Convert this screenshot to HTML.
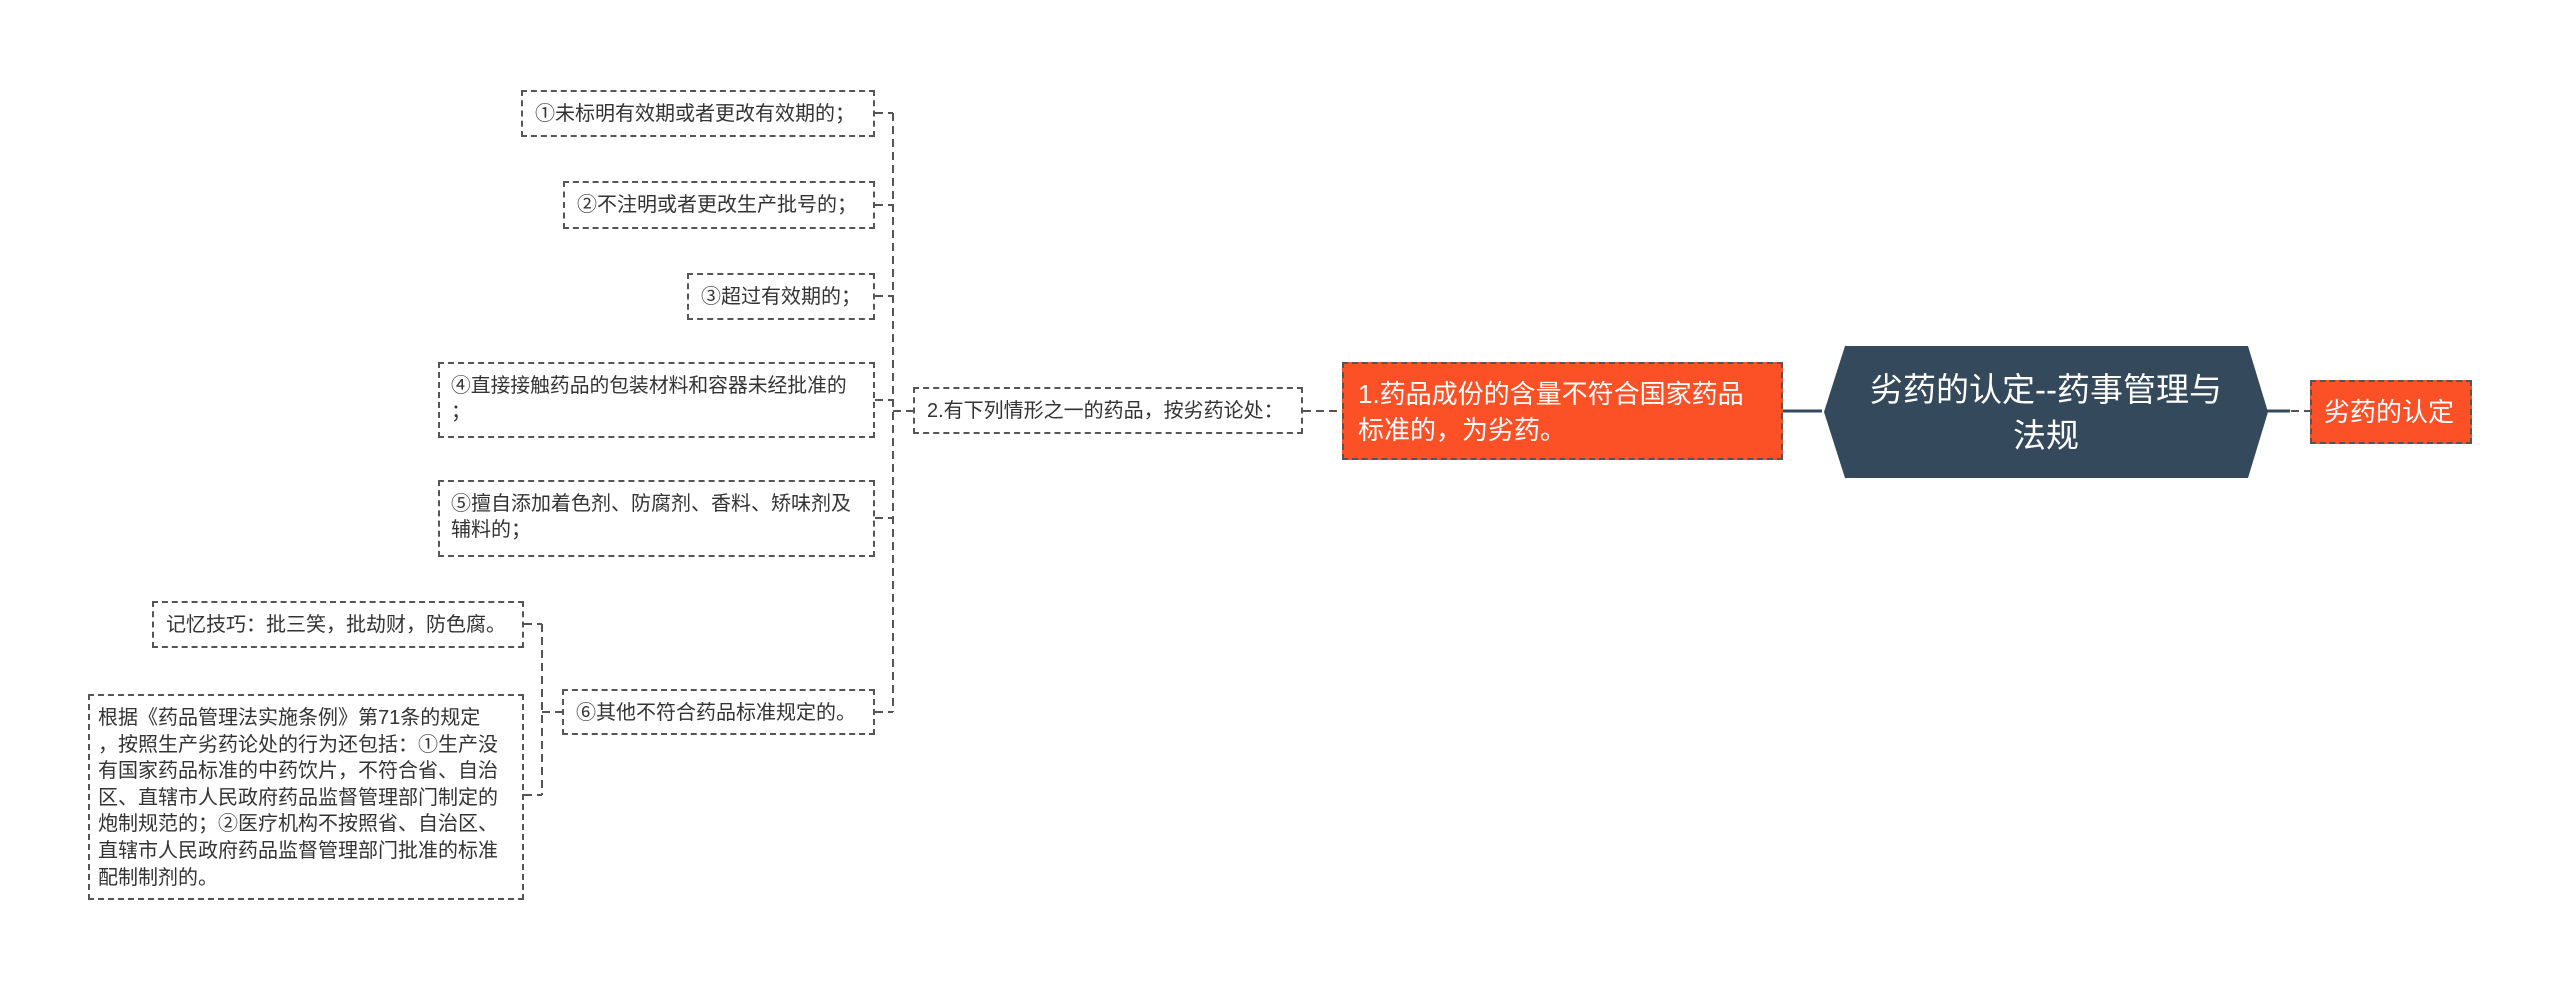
<!DOCTYPE html>
<html><head><meta charset="utf-8"><style>
html,body{margin:0;padding:0;background:#fff;}
body{width:2560px;height:990px;position:relative;overflow:hidden;font-family:"Liberation Sans","Noto Sans CJK SC",sans-serif;color:#333;}
.b{position:absolute;box-sizing:border-box;border:2px dashed #555;font-size:20px;line-height:26px;padding:9px 12px;white-space:nowrap;}
svg{position:absolute;left:0;top:0;}
</style></head><body>
<svg width="2560" height="990">
<g stroke="#555" stroke-width="2" stroke-dasharray="8,5" fill="none">
<path d="M893 113 V712"/>
<path d="M875 113 H893"/><path d="M875 205 H893"/><path d="M875 296 H893"/>
<path d="M875 400 H893"/><path d="M875 518 H893"/><path d="M875 712 H893"/>
<path d="M893 411 H913"/>
<path d="M1303 411 H1342"/>
<path d="M542 624 V795"/><path d="M524 624 H542"/><path d="M524 795 H542"/><path d="M542 712 H562"/>
<path d="M2265 411 H2310"/>
</g>
<path d="M1783 411 H1822" stroke="#34495e" stroke-width="3"/>
<path d="M2265 411 H2290" stroke="#34495e" stroke-width="3"/>
<polygon points="1845,346 2248,346 2268,412 2248,478 1845,478 1824,412" fill="#344a5c"/>
<text x="2046" y="401" font-size="33" fill="#fff" text-anchor="middle" font-family="Liberation Sans, Noto Sans CJK SC, sans-serif">劣药的认定--药事管理与</text>
<text x="2046" y="447" font-size="33" fill="#fff" text-anchor="middle" font-family="Liberation Sans, Noto Sans CJK SC, sans-serif">法规</text>
</svg>
<div class="b" style="left:1342px;top:362px;width:441px;height:98px;background:#fc5127;color:#fff;font-size:26px;line-height:36px;padding:12px 14px;white-space:normal;">1.药品成份的含量不符合国家药品标准的，为劣药。</div>
<div class="b" style="left:2310px;top:380px;width:162px;height:64px;background:#fc5127;color:#fff;font-size:26px;line-height:40px;padding:10px 12px;">劣药的认定</div>
<div class="b" style="left:913px;top:387px;width:390px;height:47px;">2.有下列情形之一的药品，按劣药论处：</div>
<div class="b" style="left:521px;top:90px;width:354px;height:47px;">①未标明有效期或者更改有效期的；</div>
<div class="b" style="left:563px;top:181px;width:312px;height:48px;">②不注明或者更改生产批号的；</div>
<div class="b" style="left:687px;top:273px;width:188px;height:47px;">③超过有效期的；</div>
<div class="b" style="left:438px;top:362px;width:437px;height:76px;font-size:19.8px;padding:9px 4px 9px 11px;">④直接接触药品的包装材料和容器未经批准的<br>；</div>
<div class="b" style="left:438px;top:480px;width:437px;height:77px;padding:9px 4px 9px 11px;">⑤擅自添加着色剂、防腐剂、香料、矫味剂及<br>辅料的；</div>
<div class="b" style="left:562px;top:689px;width:313px;height:46px;">⑥其他不符合药品标准规定的。</div>
<div class="b" style="left:152px;top:601px;width:372px;height:47px;">记忆技巧：批三笑，批劫财，防色腐。</div>
<div class="b" style="left:88px;top:694px;width:436px;height:206px;line-height:26.6px;font-size:20px;padding:9px 8px;">根据《药品管理法实施条例》第71条的规定<br>，按照生产劣药论处的行为还包括：①生产没<br>有国家药品标准的中药饮片，不符合省、自治<br>区、直辖市人民政府药品监督管理部门制定的<br>炮制规范的；②医疗机构不按照省、自治区、<br>直辖市人民政府药品监督管理部门批准的标准<br>配制制剂的。</div>
</body></html>
